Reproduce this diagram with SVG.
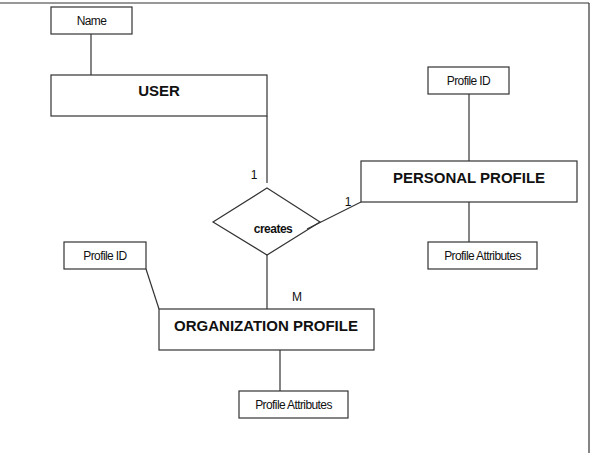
<svg xmlns="http://www.w3.org/2000/svg" width="591" height="453" viewBox="0 0 591 453">
<style>
.box{fill:#fff;stroke:#333;stroke-width:1.2}
.ln{stroke:#333;stroke-width:1.2;fill:none}
.attr{font-family:"Liberation Sans",Arial,sans-serif;font-size:12px;letter-spacing:-0.6px;fill:#111;text-anchor:middle;dominant-baseline:central}
.ent{font-family:"Liberation Sans",Arial,sans-serif;font-size:15px;font-weight:bold;fill:#111;text-anchor:middle;dominant-baseline:central}
.rel{font-family:"Liberation Sans",Arial,sans-serif;font-size:12px;font-weight:bold;letter-spacing:-0.5px;fill:#111;text-anchor:middle;dominant-baseline:central}
.card{font-family:"Liberation Sans",Arial,sans-serif;font-size:12px;fill:#111;text-anchor:middle;dominant-baseline:central}
</style>
<rect width="591" height="453" fill="#fff"/>
<g id="frame">
<line class="ln" x1="0" y1="3" x2="589" y2="3"/>
<line class="ln" x1="589" y1="3" x2="589" y2="453"/>
</g>
<g id="name">
<rect class="box" x="51" y="7" width="81" height="27"/>
<text class="attr" x="91.5" y="21">Name</text>
</g>
<g id="user">
<rect class="box" x="51" y="75" width="216" height="41"/>
<text class="ent" x="159" y="90">USER</text>
</g>
<g id="creates">
<polygon class="box" points="267,188 320,222 267,255 213,222"/>
<text class="rel" x="273" y="229">creates</text>
</g>
<g id="pp-id">
<rect class="box" x="428" y="67" width="81" height="27"/>
<text class="attr" x="468.5" y="81">Profile ID</text>
</g>
<g id="personal-profile">
<rect class="box" x="361" y="161" width="216" height="41"/>
<text class="ent" x="469" y="177">PERSONAL PROFILE</text>
</g>
<g id="pp-attr">
<rect class="box" x="428" y="242" width="109" height="27"/>
<text class="attr" x="482.5" y="256">Profile Attributes</text>
</g>
<g id="op-id">
<rect class="box" x="64" y="242" width="82" height="27"/>
<text class="attr" x="105" y="256">Profile ID</text>
</g>
<g id="organization-profile">
<rect class="box" x="159" y="309" width="215" height="41"/>
<text class="ent" x="266" y="325">ORGANIZATION PROFILE</text>
</g>
<g id="op-attr">
<rect class="box" x="239" y="391" width="109" height="27"/>
<text class="attr" x="293.5" y="405">Profile Attributes</text>
</g>
<g id="connectors">
<line class="ln" x1="91" y1="34" x2="91" y2="75"/>
<line class="ln" x1="267" y1="116" x2="267" y2="183"/>
<line class="ln" x1="307" y1="229" x2="361" y2="202"/>
<line class="ln" x1="469" y1="94" x2="469" y2="161"/>
<line class="ln" x1="469" y1="202" x2="469" y2="242"/>
<line class="ln" x1="267" y1="255" x2="267" y2="309"/>
<line class="ln" x1="146" y1="269" x2="159" y2="309"/>
<line class="ln" x1="280" y1="350" x2="280" y2="391"/>
<text class="card" x="254" y="175">1</text>
<text class="card" x="348" y="202">1</text>
<text class="card" x="297" y="297">M</text>
</g>
</svg>
